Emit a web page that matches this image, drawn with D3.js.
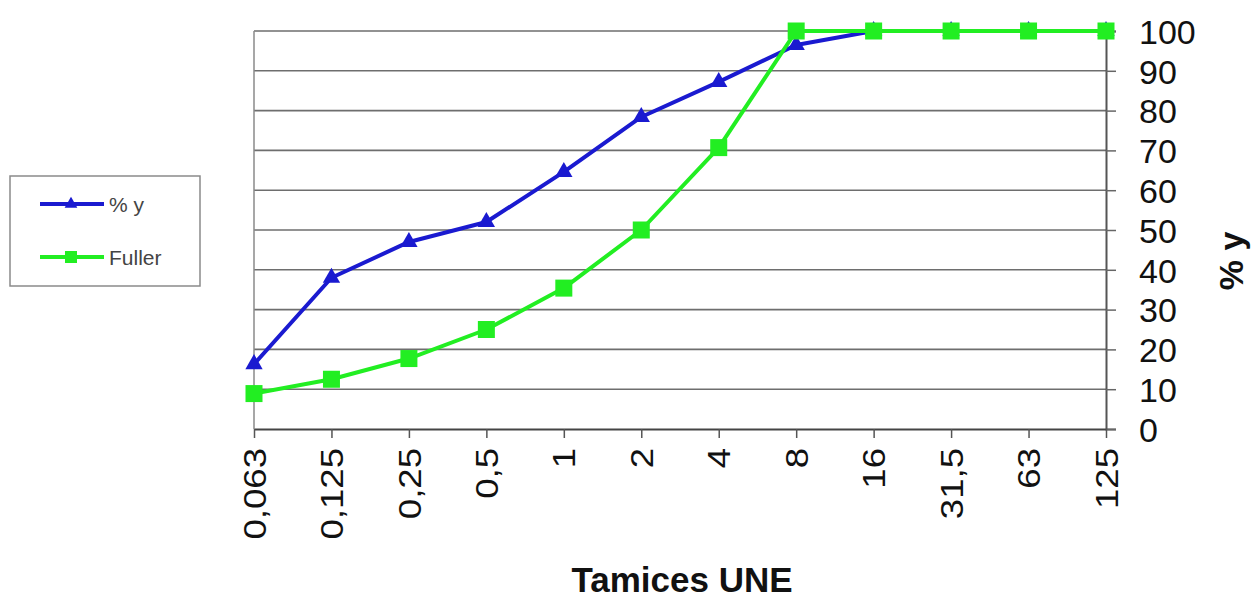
<!DOCTYPE html>
<html><head><meta charset="utf-8">
<script src="https://cdn.jsdelivr.net/npm/d3@7"></script>
<style>body{margin:0;background:#fff}svg{display:block}</style>
</head><body>
<svg id="c" width="1253" height="599"></svg>
<script>
const categories = ["0,063","0,125","0,25","0,5","1","2","4","8","16","31,5","63","125"];
const seriesY = [16.3, 38, 47, 52, 64.6, 78.4, 87.2, 96.5, 100, 100, 100, 100];
const seriesFuller = [8.9, 12.5, 17.7, 25, 35.4, 50, 70.7, 100, 100, 100, 100, 100];
const yTicks = [0,10,20,30,40,50,60,70,80,90,100];
const seriesNames = ["% y", "Fuller"];

const svg = d3.select("#c");
const L = 254, R = 1106, T = 31, B = 429;
const x = d3.scalePoint().domain(categories).range([L, R]);
const y = d3.scaleLinear().domain([0, 100]).range([B, T]);
const font = "Liberation Sans, Arial, sans-serif";

// gridlines
svg.append("g").selectAll("line").data(yTicks.filter(d => d > 0)).join("line")
  .attr("x1", L).attr("x2", R).attr("y1", d => y(d)).attr("y2", d => y(d))
  .attr("stroke", "#6e6e6e").attr("stroke-width", 1.6);
// left border
svg.append("line").attr("x1", L).attr("x2", L).attr("y1", T).attr("y2", B)
  .attr("stroke", "#8a8a8a").attr("stroke-width", 1.5);

// right axis
const ya = svg.append("g").attr("transform", `translate(${R},0)`)
  .call(d3.axisRight(y).tickValues(yTicks).tickSize(10));
ya.select(".domain").attr("stroke", "#555").attr("stroke-width", 2);
ya.selectAll(".tick line").attr("stroke", "#666").attr("stroke-width", 1.5);
ya.selectAll("text").attr("font-family", font).attr("font-size", 34).attr("fill", "#111")
  .attr("text-anchor", "start").attr("x", 33).attr("dy", "0.36em");

// bottom axis
const xa = svg.append("g").attr("transform", `translate(0,${B})`)
  .call(d3.axisBottom(x).tickSize(9).tickSizeOuter(0));
xa.select(".domain").attr("stroke", "#444").attr("stroke-width", 2);
xa.selectAll(".tick line").attr("stroke", "#555").attr("stroke-width", 1.5);
xa.selectAll("text").attr("font-family", font).attr("font-size", 31).attr("fill", "#111")
  .attr("x", 0).attr("y", 0).attr("dy", "0.36em").attr("text-anchor", "end")
  .attr("transform", "translate(0,19) rotate(-90) scale(1.18,1)");

// titles
svg.append("text").attr("x", 682).attr("y", 592).attr("text-anchor", "middle")
  .attr("font-family", font).attr("font-weight", "bold").attr("font-size", 35).attr("fill", "#111")
  .text("Tamices UNE");
svg.append("text").attr("transform", "translate(1243,261) rotate(-90)").attr("text-anchor", "middle")
  .attr("font-family", font).attr("font-weight", "bold").attr("font-size", 34).attr("fill", "#111")
  .text("% y");

const blue = "#1a1ad0", green = "#22ee22";
const line = d3.line().x((d, i) => x(categories[i])).y(d => y(d));

// blue series
svg.append("path").datum(seriesY).attr("d", line).attr("fill", "none")
  .attr("stroke", blue).attr("stroke-width", 4).attr("stroke-linejoin", "round");
svg.append("g").selectAll("path").data(seriesY).join("path")
  .attr("d", d3.symbol(d3.symbolTriangle, 130))
  .attr("transform", (d, i) => `translate(${x(categories[i])},${y(d)})`)
  .attr("fill", blue);

// green series
svg.append("path").datum(seriesFuller).attr("d", line).attr("fill", "none")
  .attr("stroke", green).attr("stroke-width", 4).attr("stroke-linejoin", "round");
svg.append("g").selectAll("rect").data(seriesFuller).join("rect")
  .attr("x", (d, i) => x(categories[i]) - 8.5).attr("y", d => y(d) - 8.5)
  .attr("width", 17).attr("height", 17).attr("fill", green);

// legend
const lg = svg.append("g");
lg.append("rect").attr("x", 10).attr("y", 176).attr("width", 190).attr("height", 110)
  .attr("fill", "#fff").attr("stroke", "#8a8a8a").attr("stroke-width", 1.5);
const items = [{name: seriesNames[0], color: blue, sym: "tri", yy: 204},
               {name: seriesNames[1], color: green, sym: "sq", yy: 257}];
items.forEach(it => {
  lg.append("line").attr("x1", 40).attr("x2", 104).attr("y1", it.yy).attr("y2", it.yy)
    .attr("stroke", it.color).attr("stroke-width", 4);
  if (it.sym === "tri") {
    lg.append("path").attr("d", d3.symbol(d3.symbolTriangle, 70)).attr("transform", `translate(71,${it.yy})`).attr("fill", it.color);
  } else {
    lg.append("rect").attr("x", 65).attr("y", it.yy - 6).attr("width", 12).attr("height", 12).attr("fill", it.color);
  }
  lg.append("text").attr("x", 109).attr("y", it.yy).attr("dy", "0.36em")
    .attr("font-family", font).attr("font-size", 21).attr("fill", "#444").text(it.name);
});
</script>
</body></html>
